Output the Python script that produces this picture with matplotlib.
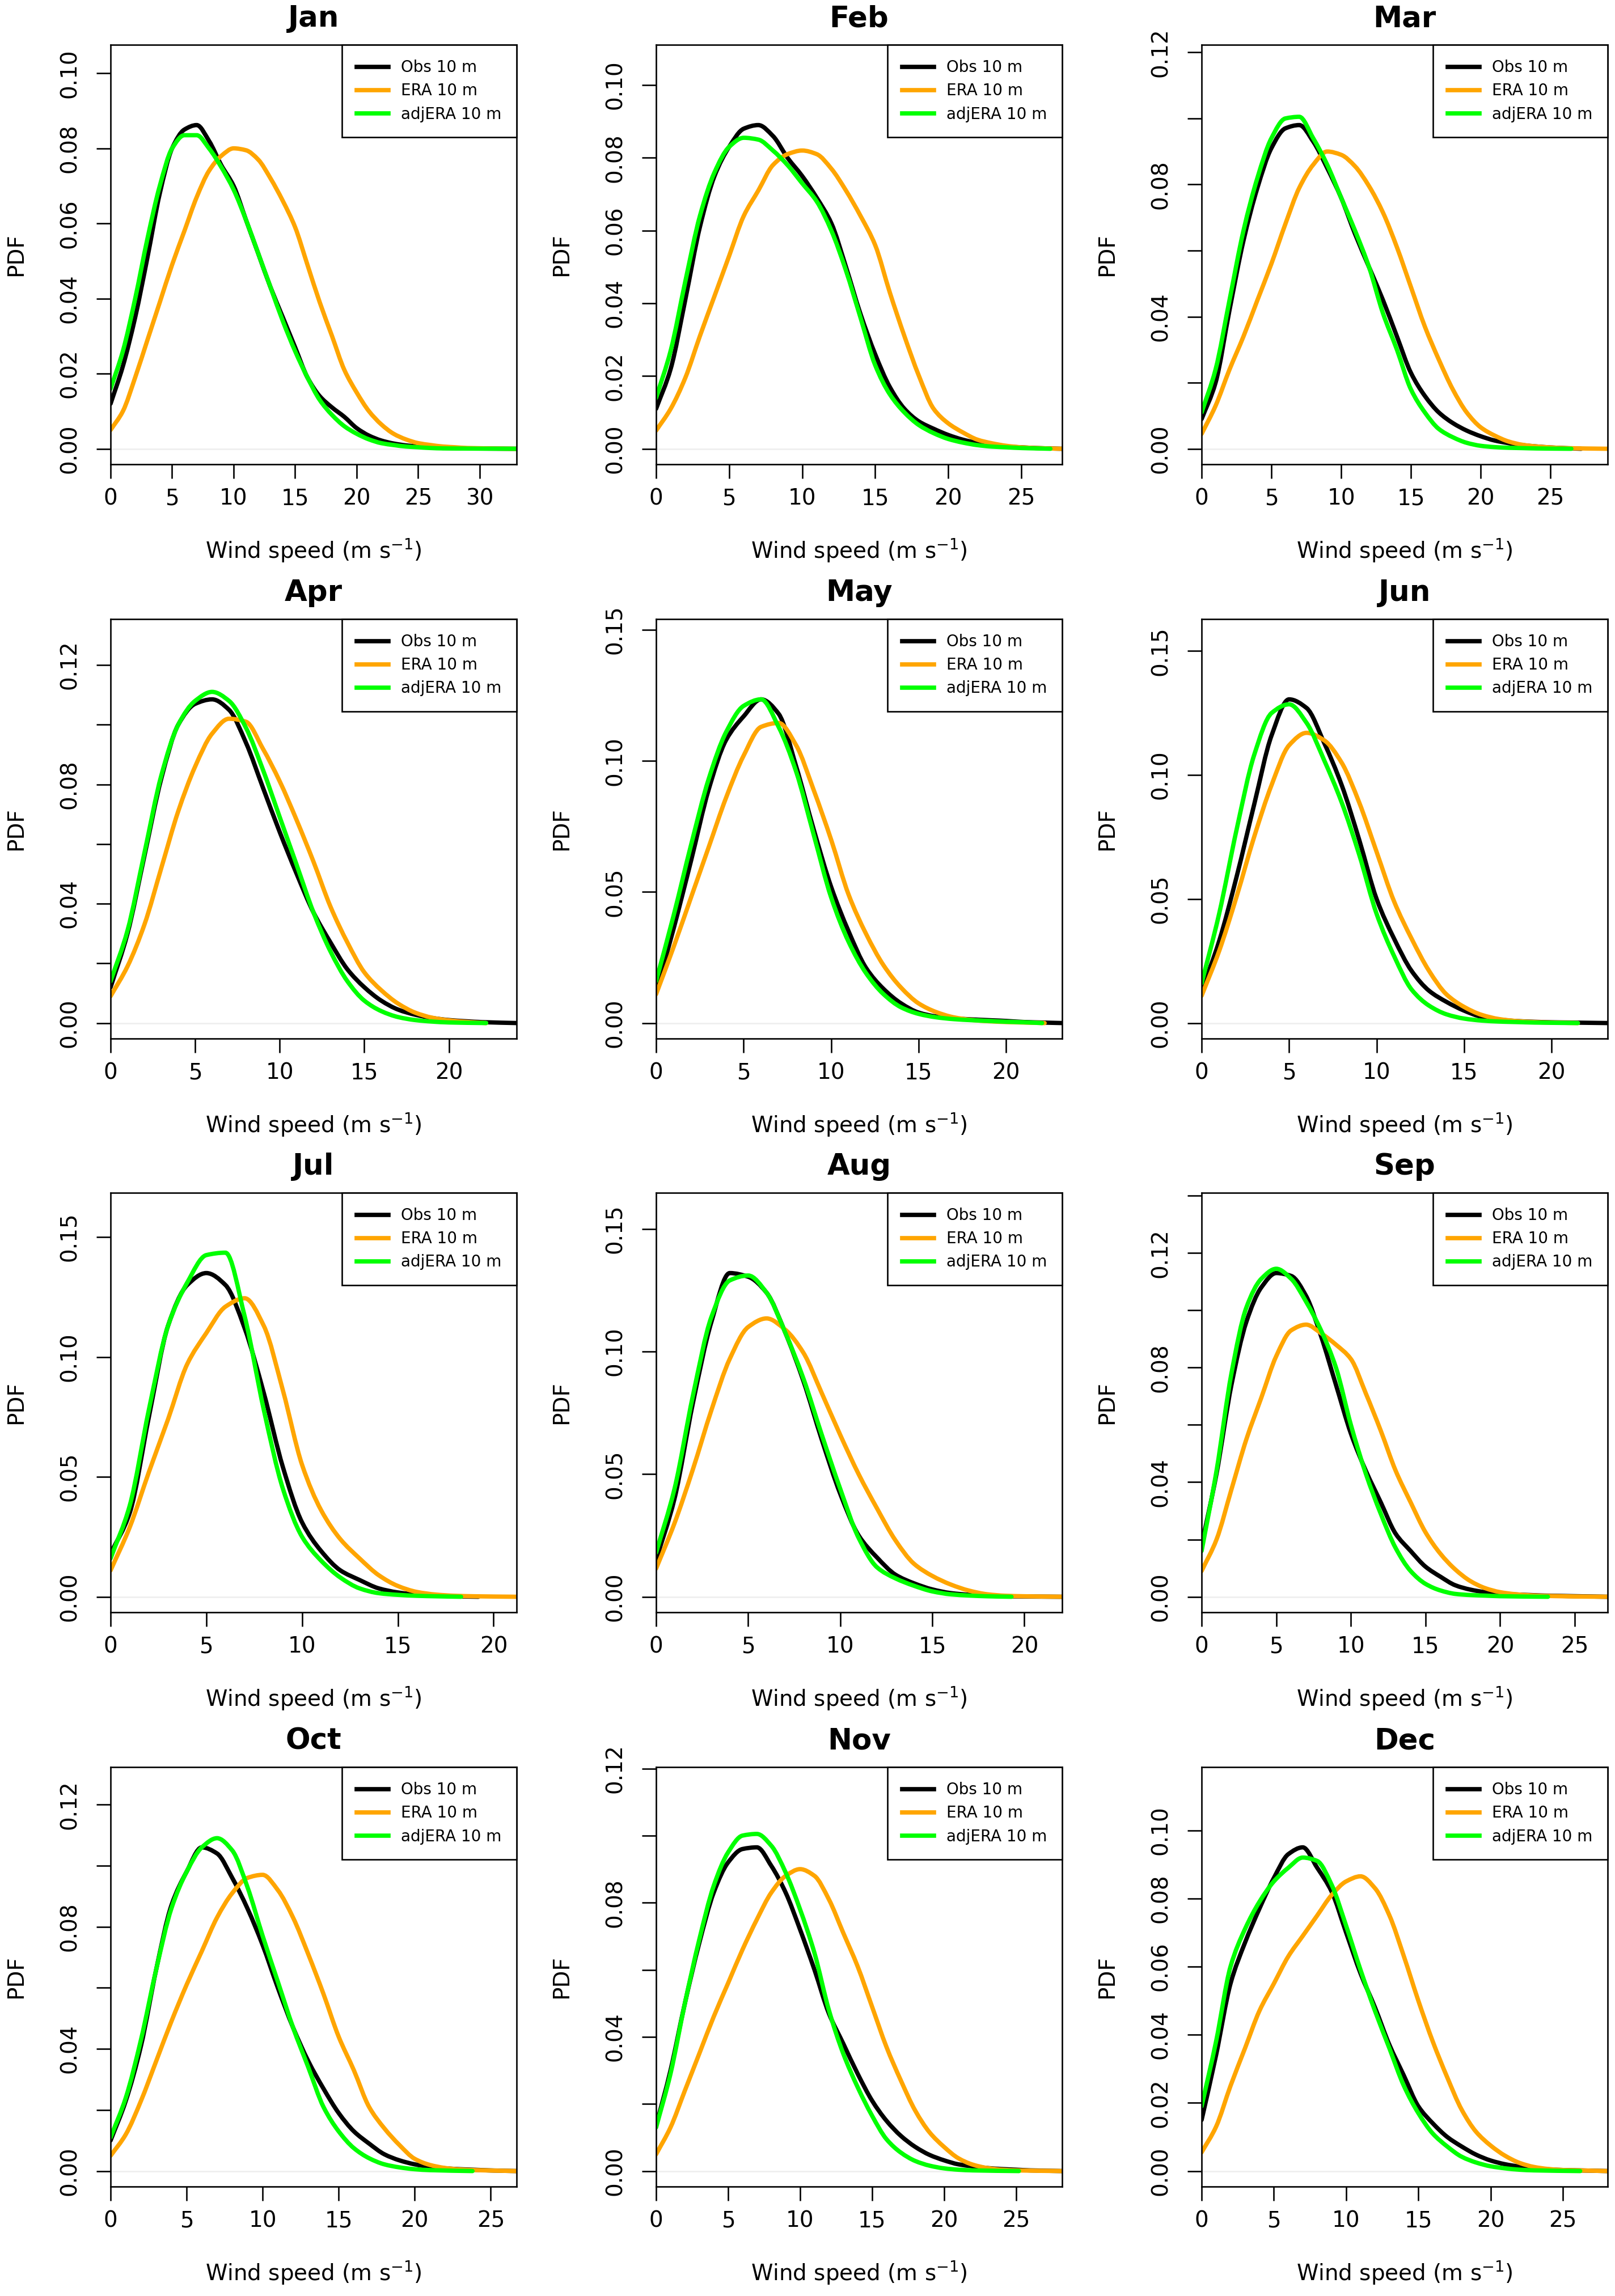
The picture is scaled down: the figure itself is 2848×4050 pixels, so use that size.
import numpy as np
import matplotlib
matplotlib.use("Agg")
import matplotlib.pyplot as plt
from matplotlib.path import Path
from matplotlib.patches import PathPatch
from matplotlib.lines import Line2D

# Monthly wind speed PDFs, values read at 0, 1, 2, ... m/s; the last value sits at the curve end
months = ["Jan", "Feb", "Mar", "Apr", "May", "Jun", "Jul", "Aug", "Sep", "Oct", "Nov", "Dec"]

obs_jan = [0.012, 0.022, 0.035, 0.051, 0.068, 0.080, 0.085, 0.0862, 0.082, 0.0755, 0.070, 0.061, 0.052, 0.043, 0.035, 0.027, 0.019, 0.014, 0.011, 0.0085, 0.0055, 0.0035, 0.0022, 0.0014, 0.0009, 0.0006, 0.0004, 0.0002, 0.0]
era_jan = [0.005, 0.010, 0.019, 0.029, 0.039, 0.049, 0.058, 0.067, 0.074, 0.078, 0.080, 0.0795, 0.077, 0.072, 0.066, 0.059, 0.049, 0.039, 0.030, 0.021, 0.015, 0.010, 0.0065, 0.004, 0.0025, 0.0015, 0.001, 0.0006, 0.0004, 0.0002, 0.0]
adj_jan = [0.016, 0.026, 0.040, 0.056, 0.070, 0.080, 0.0835, 0.0835, 0.080, 0.075, 0.069, 0.061, 0.052, 0.043, 0.034, 0.026, 0.019, 0.013, 0.009, 0.006, 0.004, 0.0025, 0.0015, 0.001, 0.0006, 0.0004, 0.0002, 0.0001, 0.0]

obs_feb = [0.011, 0.022, 0.041, 0.061, 0.075, 0.083, 0.088, 0.089, 0.086, 0.080, 0.075, 0.069, 0.062, 0.050, 0.037, 0.026, 0.017, 0.011, 0.0075, 0.0055, 0.0038, 0.0025, 0.0016, 0.001, 0.0006, 0.0004, 0.0002, 0.0]
era_feb = [0.005, 0.011, 0.0195, 0.031, 0.042, 0.053, 0.064, 0.071, 0.078, 0.081, 0.082, 0.081, 0.077, 0.071, 0.064, 0.056, 0.043, 0.031, 0.020, 0.011, 0.007, 0.0045, 0.0025, 0.0015, 0.0008, 0.0004, 0.0002, 0.0]
adj_feb = [0.014, 0.027, 0.046, 0.064, 0.076, 0.083, 0.0855, 0.085, 0.082, 0.078, 0.073, 0.068, 0.060, 0.049, 0.036, 0.023, 0.015, 0.010, 0.0065, 0.0043, 0.0027, 0.0017, 0.001, 0.0006, 0.0004, 0.0002, 0.0001, 0.0]

obs_mar = [0.009, 0.020, 0.042, 0.063, 0.079, 0.091, 0.097, 0.098, 0.093, 0.085, 0.076, 0.065, 0.055, 0.045, 0.034, 0.023, 0.016, 0.011, 0.0078, 0.0055, 0.0038, 0.0025, 0.0017, 0.0011, 0.0007, 0.0004, 0.0002, 0.0]
era_mar = [0.0045, 0.013, 0.024, 0.034, 0.045, 0.056, 0.068, 0.079, 0.086, 0.090, 0.089, 0.0855, 0.0795, 0.0715, 0.061, 0.049, 0.037, 0.027, 0.018, 0.011, 0.0065, 0.004, 0.0022, 0.0012, 0.0007, 0.0004, 0.0002, 0.0]
adj_mar = [0.011, 0.024, 0.045, 0.066, 0.082, 0.094, 0.100, 0.1005, 0.094, 0.086, 0.076, 0.066, 0.055, 0.041, 0.030, 0.018, 0.011, 0.006, 0.0035, 0.0018, 0.0009, 0.0005, 0.0003, 0.0002, 0.0001, 0.0]

obs_apr = [0.012, 0.030, 0.056, 0.082, 0.100, 0.107, 0.1085, 0.105, 0.094, 0.079, 0.064, 0.050, 0.037, 0.027, 0.018, 0.012, 0.0075, 0.0045, 0.0028, 0.0017, 0.001, 0.0006, 0.0003, 0.0]
era_apr = [0.009, 0.019, 0.033, 0.052, 0.071, 0.086, 0.097, 0.102, 0.101, 0.092, 0.081, 0.068, 0.054, 0.039, 0.027, 0.017, 0.011, 0.0065, 0.0035, 0.0018, 0.0009, 0.0004, 0.0]
adj_apr = [0.014, 0.031, 0.057, 0.083, 0.100, 0.108, 0.111, 0.108, 0.099, 0.085, 0.069, 0.053, 0.037, 0.024, 0.014, 0.0075, 0.004, 0.002, 0.001, 0.0005, 0.0002, 0.0]

obs_may = [0.012, 0.036, 0.062, 0.089, 0.108, 0.117, 0.1235, 0.118, 0.098, 0.074, 0.052, 0.035, 0.021, 0.013, 0.0075, 0.004, 0.0025, 0.0018, 0.0014, 0.0011, 0.0008, 0.0004, 0.0002, 0.0]
era_may = [0.011, 0.029, 0.048, 0.067, 0.086, 0.102, 0.113, 0.1145, 0.106, 0.089, 0.070, 0.049, 0.034, 0.022, 0.0135, 0.0075, 0.0042, 0.0022, 0.0012, 0.0007, 0.0004, 0.0002, 0.0]
adj_may = [0.016, 0.041, 0.068, 0.093, 0.111, 0.121, 0.1235, 0.113, 0.096, 0.072, 0.048, 0.031, 0.019, 0.011, 0.006, 0.0035, 0.0022, 0.0015, 0.0011, 0.0008, 0.0005, 0.0003, 0.0]

obs_jun = [0.013, 0.033, 0.059, 0.088, 0.116, 0.1305, 0.127, 0.113, 0.096, 0.074, 0.050, 0.034, 0.021, 0.013, 0.0085, 0.005, 0.0025, 0.0014, 0.0008, 0.0005, 0.0003, 0.0002, 0.0]
era_jun = [0.011, 0.029, 0.051, 0.075, 0.096, 0.112, 0.117, 0.114, 0.105, 0.089, 0.069, 0.049, 0.034, 0.021, 0.0115, 0.0065, 0.0033, 0.0016, 0.0008, 0.0004, 0.0002, 0.0]
adj_jun = [0.016, 0.044, 0.078, 0.108, 0.125, 0.1285, 0.121, 0.106, 0.089, 0.068, 0.044, 0.027, 0.0135, 0.007, 0.0035, 0.0018, 0.001, 0.0006, 0.0004, 0.0002, 0.0]

obs_jul = [0.018, 0.035, 0.075, 0.113, 0.130, 0.135, 0.130, 0.112, 0.085, 0.054, 0.031, 0.019, 0.011, 0.007, 0.0035, 0.0018, 0.0009, 0.0005, 0.0002, 0.0]
era_jul = [0.011, 0.029, 0.052, 0.074, 0.097, 0.110, 0.121, 0.1245, 0.113, 0.086, 0.055, 0.036, 0.024, 0.016, 0.009, 0.0045, 0.002, 0.0009, 0.0004, 0.0002, 0.0]
adj_jul = [0.016, 0.038, 0.078, 0.113, 0.131, 0.1425, 0.1435, 0.117, 0.078, 0.045, 0.025, 0.015, 0.008, 0.0035, 0.0015, 0.0008, 0.0004, 0.0002, 0.0]

obs_aug = [0.015, 0.040, 0.079, 0.112, 0.132, 0.1305, 0.124, 0.108, 0.088, 0.064, 0.042, 0.025, 0.016, 0.009, 0.0055, 0.003, 0.0015, 0.0008, 0.0004, 0.0002, 0.0]
era_aug = [0.0115, 0.030, 0.052, 0.076, 0.097, 0.110, 0.1135, 0.109, 0.0995, 0.083, 0.066, 0.050, 0.036, 0.023, 0.0135, 0.0085, 0.005, 0.0025, 0.001, 0.0004, 0.0002, 0.0]
adj_aug = [0.018, 0.044, 0.082, 0.114, 0.129, 0.131, 0.124, 0.108, 0.089, 0.066, 0.044, 0.024, 0.012, 0.0075, 0.0045, 0.0022, 0.001, 0.0005, 0.0002, 0.0]

obs_sep = [0.018, 0.043, 0.074, 0.096, 0.108, 0.113, 0.112, 0.105, 0.091, 0.074, 0.057, 0.044, 0.033, 0.022, 0.016, 0.0105, 0.007, 0.004, 0.0025, 0.0016, 0.0011, 0.0008, 0.0006, 0.0004, 0.0003, 0.0002, 0.0]
era_sep = [0.009, 0.020, 0.0375, 0.055, 0.0695, 0.084, 0.093, 0.095, 0.092, 0.088, 0.083, 0.071, 0.058, 0.044, 0.033, 0.0225, 0.015, 0.0095, 0.0055, 0.003, 0.0016, 0.0009, 0.0005, 0.0003, 0.0002, 0.0001, 0.0]
adj_sep = [0.016, 0.044, 0.078, 0.101, 0.111, 0.1145, 0.111, 0.103, 0.093, 0.080, 0.060, 0.043, 0.029, 0.017, 0.009, 0.0045, 0.0022, 0.001, 0.0006, 0.0004, 0.0002, 0.0]

obs_oct = [0.010, 0.023, 0.041, 0.066, 0.087, 0.098, 0.106, 0.104, 0.096, 0.086, 0.074, 0.060, 0.047, 0.036, 0.027, 0.019, 0.013, 0.009, 0.0055, 0.0035, 0.0022, 0.0014, 0.0009, 0.0006, 0.0004, 0.0002, 0.0]
era_oct = [0.005, 0.012, 0.023, 0.036, 0.049, 0.061, 0.072, 0.083, 0.091, 0.096, 0.097, 0.092, 0.083, 0.071, 0.058, 0.044, 0.033, 0.021, 0.014, 0.0085, 0.004, 0.002, 0.001, 0.0005, 0.0003, 0.0]
adj_oct = [0.011, 0.024, 0.043, 0.066, 0.086, 0.098, 0.106, 0.109, 0.105, 0.093, 0.077, 0.062, 0.047, 0.034, 0.021, 0.013, 0.0075, 0.0042, 0.0022, 0.0012, 0.0006, 0.0003, 0.0]

obs_nov = [0.0135, 0.030, 0.050, 0.068, 0.083, 0.092, 0.096, 0.0965, 0.091, 0.083, 0.072, 0.060, 0.047, 0.038, 0.029, 0.021, 0.015, 0.0105, 0.0072, 0.0048, 0.0032, 0.002, 0.0014, 0.0009, 0.0006, 0.0004, 0.0002, 0.0]
era_nov = [0.005, 0.013, 0.024, 0.035, 0.046, 0.056, 0.066, 0.075, 0.083, 0.088, 0.090, 0.088, 0.081, 0.071, 0.061, 0.049, 0.037, 0.027, 0.018, 0.0115, 0.0072, 0.0038, 0.0019, 0.0009, 0.0004, 0.0002, 0.0]
adj_nov = [0.013, 0.029, 0.050, 0.069, 0.085, 0.095, 0.100, 0.1005, 0.097, 0.089, 0.078, 0.065, 0.048, 0.035, 0.025, 0.0165, 0.0095, 0.0055, 0.003, 0.0016, 0.0008, 0.0004, 0.0002, 0.0]

obs_dec = [0.015, 0.034, 0.055, 0.067, 0.077, 0.086, 0.093, 0.095, 0.089, 0.082, 0.070, 0.058, 0.048, 0.037, 0.028, 0.019, 0.014, 0.010, 0.0072, 0.0048, 0.0031, 0.002, 0.0013, 0.0008, 0.0005, 0.0003, 0.0002, 0.0]
era_dec = [0.0055, 0.013, 0.025, 0.036, 0.047, 0.055, 0.063, 0.069, 0.075, 0.081, 0.085, 0.0865, 0.083, 0.075, 0.063, 0.050, 0.038, 0.0275, 0.018, 0.0115, 0.0075, 0.0045, 0.0024, 0.0012, 0.0006, 0.0003, 0.0002, 0.0]
adj_dec = [0.019, 0.038, 0.060, 0.071, 0.079, 0.085, 0.089, 0.092, 0.091, 0.084, 0.072, 0.059, 0.047, 0.036, 0.025, 0.017, 0.011, 0.0072, 0.0042, 0.0025, 0.0014, 0.0008, 0.0004, 0.0002, 0.0]

# wind speed where each curve stops (m/s)
obs_end = [33.0, 27.8, 27.2, 24.0, 23.2, 23.2, 19.2, 22.05, 27.2, 26.7, 28.2, 28.1]
era_end = [33.0, 27.8, 29.1, 22.2, 22.2, 21.5, 21.2, 22.05, 27.2, 26.7, 28.2, 28.1]
adj_end = [33.0, 27.0, 26.5, 22.2, 22.06, 21.5, 18.3, 19.3, 23.2, 23.8, 25.2, 26.2]

obs = [obs_jan, obs_feb, obs_mar, obs_apr, obs_may, obs_jun, obs_jul, obs_aug, obs_sep, obs_oct, obs_nov, obs_dec]
era = [era_jan, era_feb, era_mar, era_apr, era_may, era_jun, era_jul, era_aug, era_sep, era_oct, era_nov, era_dec]
adj = [adj_jan, adj_feb, adj_mar, adj_apr, adj_may, adj_jun, adj_jul, adj_aug, adj_sep, adj_oct, adj_nov, adj_dec]

series_names = ["Obs 10 m", "ERA 10 m", "adjERA 10 m"]
colors = ["black", "#FFA500", "#00FF00"]

# y tick step and which ticks get a label
ystep = [0.02, 0.02, 0.02, 0.02, 0.05, 0.05, 0.05, 0.05, 0.02, 0.02, 0.02, 0.02]
label_every = [1, 1, 2, 2, 1, 1, 1, 1, 2, 2, 2, 1]

LW = 5.5


def xgrid(vals, end):
    return list(range(len(vals) - 1)) + [end]


def smooth_path(x, y):
    # monotone cubic drawn as bezier segments through the read values (no overshoot)
    x = np.asarray(x, float)
    y = np.asarray(y, float)
    h = np.diff(x)
    d = np.diff(y) / h
    m = np.zeros_like(y)
    m[0], m[-1] = d[0], d[-1]
    for k in range(1, len(y) - 1):
        if d[k - 1] * d[k] > 0:
            w1 = 2 * h[k] + h[k - 1]
            w2 = h[k] + 2 * h[k - 1]
            m[k] = (w1 + w2) / (w1 / d[k - 1] + w2 / d[k])
    verts = [(x[0], y[0])]
    codes = [Path.MOVETO]
    for k in range(len(x) - 1):
        verts += [(x[k] + h[k] / 3, y[k] + m[k] * h[k] / 3),
                  (x[k + 1] - h[k] / 3, y[k + 1] - m[k + 1] * h[k] / 3),
                  (x[k + 1], y[k + 1])]
        codes += [Path.CURVE4] * 3
    return Path(verts, codes)


W, H = 2848, 4050
fig = plt.figure(figsize=(W / 100, H / 100), dpi=100)

col_left = [195, 1157, 2119]
row_top = [79, 1092, 2104, 3117]
ax_w, ax_h = 716, 740

for i, m in enumerate(months):
    r, c = divmod(i, 3)
    ax = fig.add_axes([col_left[c] / W, 1 - (row_top[r] + ax_h) / H, ax_w / W, ax_h / H])

    ax.axhline(0, color="#efefef", lw=2, zorder=0)
    curves = [(obs[i], obs_end[i]), (era[i], era_end[i]), (adj[i], adj_end[i])]
    for (vals, end), col in zip(curves, colors):
        ax.add_patch(PathPatch(smooth_path(xgrid(vals, end), vals), fill=False,
                               edgecolor=col, lw=LW, capstyle="round", joinstyle="round"))

    xmax = max(obs_end[i], era_end[i], adj_end[i])
    ymax = 1.2 * max(obs[i])
    ax.set_xlim(0, xmax)
    ax.set_ylim(-0.04 * ymax, 1.04 * ymax)

    xt = np.arange(0, xmax + 1e-9, 5)
    ax.set_xticks(xt)
    ax.set_xticklabels([str(int(t)) for t in xt])
    yt = np.arange(0, 1.04 * ymax + 1e-9, ystep[i])
    ax.set_yticks(yt)
    ax.set_yticklabels(["%.2f" % t if k % label_every[i] == 0 else "" for k, t in enumerate(yt)])
    for lab in ax.get_yticklabels():
        lab.set_rotation(90)
        lab.set_va("center")
        lab.set_ha("right")

    ax.tick_params(direction="out", length=18, width=1.9, labelsize=28)
    ax.tick_params(axis="x", pad=12)
    ax.tick_params(axis="y", pad=20)
    for sp in ax.spines.values():
        sp.set_linewidth(1.9)

    ax.set_title(m, fontsize=37, fontweight="bold", y=1 + 46 / ax_h, va="center", pad=0)
    ax.set_xlabel("Wind speed (m s$^{-1}$)", fontsize=28, va="center")
    ax.xaxis.set_label_coords(0.5, -0.205)
    ax.set_ylabel("PDF", fontsize=28, va="center", ha="center")
    ax.yaxis.set_label_coords(-0.233, 0.5)

    handles = [Line2D([], [], color=col, lw=LW) for col in colors]
    leg = ax.legend(handles, series_names, loc="upper right", fontsize=20, frameon=True,
                    fancybox=False, borderaxespad=0, borderpad=0.95, handlelength=2.0,
                    handletextpad=0.8, labelspacing=0.47)
    leg.get_frame().set_edgecolor("black")
    leg.get_frame().set_linewidth(1.9)
    leg.get_frame().set_alpha(1)

fig.savefig("out.png", dpi=100, facecolor="white")
